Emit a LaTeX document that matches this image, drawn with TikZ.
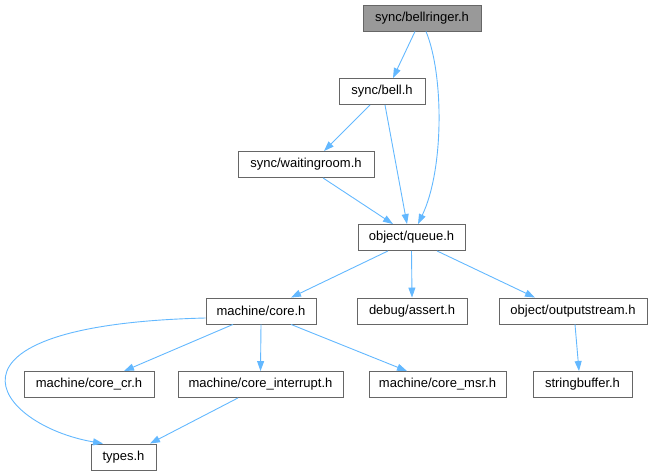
\documentclass[tikz,border=0pt]{standalone}
\usepackage{xcolor}
\usepackage{fontspec}
\setmainfont{Liberation Sans}
\usetikzlibrary{arrows.meta}
\definecolor{edgeblue}{HTML}{63B8FF}
\definecolor{boxgray}{HTML}{666666}
\definecolor{rootgray}{HTML}{999999}
\begin{document}
\begin{tikzpicture}[x=1pt, y=-1pt,
  hdr/.style={draw=boxgray, fill=white, line width=0.9pt, minimum height=26pt, inner sep=0pt, font=\fontsize{13}{15}\selectfont},
  inc/.style={draw=edgeblue, line width=0.9pt, -{Triangle[length=10pt, width=7pt]}}]
\useasboundingbox (0,0) rectangle (653,476);

\node[hdr, fill=rootgray, minimum width=118pt] (bellringer) at (422,18) {sync/bellringer.h};
\node[hdr, minimum width=86pt] (bell) at (382,91.5) {sync/bell.h};
\node[hdr, minimum width=136pt] (waitingroom) at (306,164.5) {sync/waitingroom.h};
\node[hdr, minimum width=107pt] (queue) at (411.5,237.5) {object/queue.h};

\node[hdr, minimum width=110pt] (core) at (261,311) {machine/core.h};
\node[hdr, minimum width=110pt] (assert) at (412,311) {debug/assert.h};
\node[hdr, minimum width=148pt] (outputstream) at (573,311) {object/outputstream.h};

\node[hdr, minimum width=130pt] (corecr) at (89,384.5) {machine/core\_cr.h};
\node[hdr, minimum width=165pt] (coreinterrupt) at (260.5,384.5) {machine/core\_interrupt.h};
\node[hdr, minimum width=137pt] (coremsr) at (437.5,384.5) {machine/core\_msr.h};
\node[hdr, minimum width=99pt] (stringbuffer) at (582.5,384.5) {stringbuffer.h};

\node[hdr, minimum width=65pt] (types) at (123.5,457) {types.h};

\draw[inc] ([xshift=-7pt]bellringer.south) -- ([xshift=11pt]bell.north);
\draw[inc] ([xshift=4pt]bellringer.south) .. controls (444,75) and (444,170) .. ([xshift=6.5pt]queue.north);
\draw[inc] ([xshift=-12pt]bell.south) -- ([xshift=18pt]waitingroom.north);
\draw[inc] ([xshift=3pt]bell.south) -- ([xshift=-4.5pt]queue.north);
\draw[inc] ([xshift=17pt]waitingroom.south) -- ([xshift=-18.5pt]queue.north);

\draw[inc] ([xshift=-23.5pt]queue.south) -- ([xshift=30pt]core.north);
\draw[inc] (queue.south) -- (assert.north);
\draw[inc] ([xshift=25.5pt]queue.south) -- ([xshift=-38pt]outputstream.north);

\draw[inc] ([yshift=-7pt]core.west) .. controls (-80,325) and (-5,425) .. ([xshift=-20.5pt]types.north);
\draw[inc] ([xshift=-28pt]core.south) -- ([xshift=35pt]corecr.north);
\draw[inc] (core.south) -- (coreinterrupt.north);
\draw[inc] ([xshift=30pt]core.south) -- ([xshift=-30.5pt]coremsr.north);
\draw[inc] ([xshift=-22.5pt]coreinterrupt.south) -- ([xshift=26.5pt]types.north);
\draw[inc] ([xshift=2pt]outputstream.south) -- ([xshift=-3.5pt]stringbuffer.north);
\end{tikzpicture}
\end{document}
